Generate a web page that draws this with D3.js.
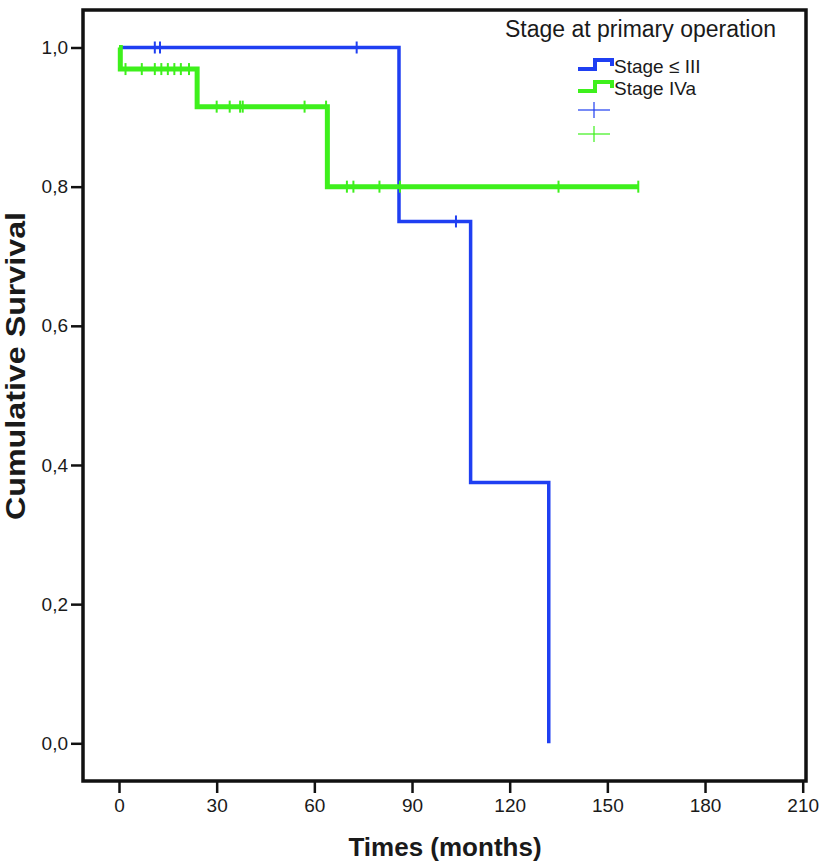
<!DOCTYPE html>
<html>
<head>
<meta charset="utf-8">
<script src="https://cdn.jsdelivr.net/npm/d3@7"></script>
<style>
  html, body { margin: 0; padding: 0; background: #fff; }
  svg { display: block; }
  text { font-family: "Liberation Sans", Arial, sans-serif; fill: #1a1a1a; }
</style>
</head>
<body>
<svg id="chart" width="822" height="864"></svg>
<script>
// ---------------- data ----------------
const groupNames = ["Stage ≤ III", "Stage IVa"];
const legendTitle = "Stage at primary operation";
const xTitle = "Times (months)";
const yTitle = "Cumulative Survival";
const xTickValues = [0, 30, 60, 90, 120, 150, 180, 210];
const yTickValues = [0.0, 0.2, 0.4, 0.6, 0.8, 1.0];

// Stage ≤ III : step times and survival after each step
const blueTimes = [0, 86, 108, 132];
const blueSurv  = [1.0, 0.75, 0.375, 0.0];
const blueCensor = [11, 12.6, 73, 103.5];

// Stage IVa
const greenTimes = [0, 0.4, 24, 64, 159.5];
const greenSurv  = [1.0, 0.969, 0.915, 0.8, 0.8];
const greenCensor = [2, 7, 11, 13, 15, 17, 19, 21.5, 30, 34, 37.2, 38, 57, 63.6, 70, 72, 80, 86.3, 135, 159.5];

const colors = ["#1f3ff2", "#3ef01c"];

// ---------------- layout ----------------
const svg = d3.select("#chart");
const frame = { left: 83, top: 10, right: 806, bottom: 781 };
const x = d3.scaleLinear().domain([0, 210]).range([119, 802.7]);
const y = d3.scaleLinear().domain([0, 1]).range([743.3, 47.5]);

const fmt = v => d3.format(".1f")(v).replace(".", ",");

// axes
const xAxis = svg.append("g")
  .attr("transform", `translate(0,${frame.bottom})`)
  .call(d3.axisBottom(x).tickValues(xTickValues).tickSize(12).tickPadding(6).tickFormat(d3.format("d")));
const yAxis = svg.append("g")
  .attr("transform", `translate(${frame.left},0)`)
  .call(d3.axisLeft(y).tickValues(yTickValues).tickSize(12).tickPadding(3).tickFormat(fmt));
[xAxis, yAxis].forEach(g => {
  g.select(".domain").remove();
  g.selectAll(".tick line").attr("stroke", "#111").attr("stroke-width", 2.5);
  g.selectAll(".tick text").attr("font-size", 19).attr("fill", "#1a1a1a")
    .attr("font-family", "'Liberation Sans', Arial, sans-serif");
});

// frame
svg.append("rect")
  .attr("x", frame.left).attr("y", frame.top)
  .attr("width", frame.right - frame.left).attr("height", frame.bottom - frame.top)
  .attr("fill", "none").attr("stroke", "#111").attr("stroke-width", 3.5);

// survival curves
const line = d3.line().x(d => x(d[0])).y(d => y(d[1])).curve(d3.curveStepAfter);
function stepValue(times, surv, t) {
  let v = surv[0];
  for (let i = 0; i < times.length; i++) if (times[i] <= t) v = surv[i];
  return v;
}
const groups = [
  { times: blueTimes, surv: blueSurv, censor: blueCensor, color: colors[0], w: 3.5 },
  { times: greenTimes, surv: greenSurv, censor: greenCensor, color: colors[1], w: 5 }
];
groups.forEach(g => {
  svg.append("path")
    .datum(g.times.map((t, i) => [t, g.surv[i]]))
    .attr("d", line)
    .attr("fill", "none")
    .attr("stroke", g.color)
    .attr("stroke-width", g.w)
    .attr("stroke-linejoin", "miter");
  svg.append("g").selectAll("line")
    .data(g.censor)
    .join("line")
    .attr("x1", d => x(d)).attr("x2", d => x(d))
    .attr("y1", d => y(stepValue(g.times, g.surv, d)) - 6)
    .attr("y2", d => y(stepValue(g.times, g.surv, d)) + 6)
    .attr("stroke", g.color).attr("stroke-width", 2);
});

// axis titles
svg.append("text")
  .attr("x", 445).attr("y", 856)
  .attr("text-anchor", "middle")
  .attr("font-size", 26).attr("font-weight", "bold")
  .text(xTitle);
svg.append("text")
  .attr("transform", "translate(25,366) rotate(-90)")
  .attr("text-anchor", "middle")
  .attr("font-size", 28).attr("font-weight", "bold")
  .attr("textLength", 308).attr("lengthAdjust", "spacingAndGlyphs")
  .text(yTitle);

// legend
const lg = svg.append("g");
lg.append("text").attr("x", 505).attr("y", 36.5).attr("font-size", 23).text(legendTitle);
const rowY = [66, 88];
groupNames.forEach((name, i) => {
  const cy = rowY[i];
  lg.append("path")
    .attr("d", `M578,${cy + 3}H595V${cy - 6}H612V${cy}`)
    .attr("fill", "none").attr("stroke", colors[i]).attr("stroke-width", 4);
  lg.append("text").attr("x", 614).attr("y", cy + 7).attr("font-size", 19).text(name);
});
const plusY = [110, 134];
colors.forEach((c, i) => {
  const cy = plusY[i];
  lg.append("line").attr("x1", 578).attr("x2", 610).attr("y1", cy).attr("y2", cy)
    .attr("stroke", c).attr("stroke-width", 1.5).attr("opacity", 0.8);
  lg.append("line").attr("x1", 594).attr("x2", 594).attr("y1", cy - 8).attr("y2", cy + 8)
    .attr("stroke", c).attr("stroke-width", 1.5).attr("opacity", 0.8);
});
</script>
</body>
</html>
